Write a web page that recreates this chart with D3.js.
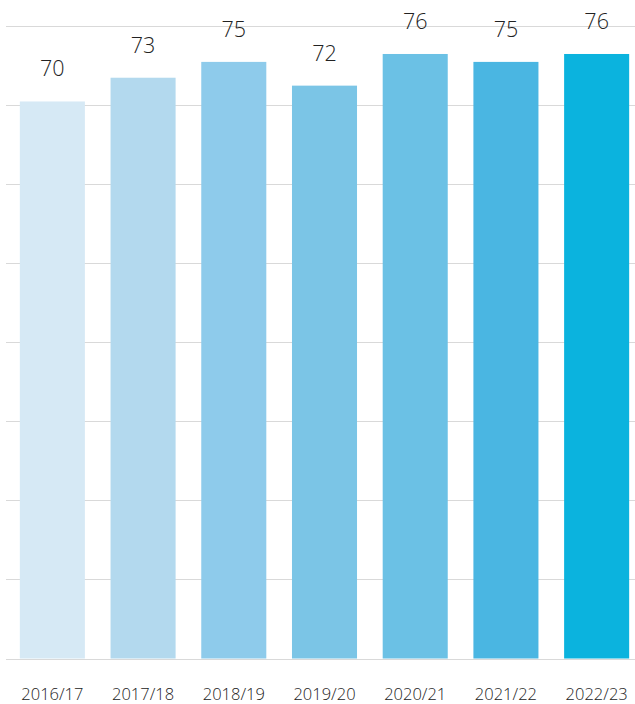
<!DOCTYPE html>
<html>
<head>
<meta charset="utf-8">
<script src="https://cdn.jsdelivr.net/npm/d3@7"></script>
<style>
  body { margin: 0; background: #fff; }
  text { font-family: "Open Sans", sans-serif; fill: #222; }
</style>
</head>
<body>
<div id="chart"></div>
<script>
// years and values (labels are rounded)
const years = ["2016/17", "2017/18", "2018/19", "2019/20", "2020/21", "2021/22", "2022/23"];
const values = [70.4, 73.4, 75.4, 72.4, 76.4, 75.4, 76.4];
const colors = ["#d6e9f5", "#b3d9ee", "#8ecbeb", "#7bc5e6", "#6bc1e5", "#4ab6e2", "#0bb3de"];
const gridTicks = [0, 10, 20, 30, 40, 50, 60, 70, 80];

const width = 635;
const height = 704;

const svg = d3.select("#chart")
  .append("svg")
  .attr("width", width)
  .attr("height", height);

const x = d3.scaleBand()
  .domain(years)
  .range([7, 642])
  .paddingInner(0.283)
  .paddingOuter(0.1415);

const y = d3.scaleLinear()
  .domain([0, 80])
  .range([658.5, 25.5]);

// gridlines
svg.append("g")
  .selectAll("line")
  .data(gridTicks)
  .join("line")
  .attr("x1", 6)
  .attr("x2", width)
  .attr("y1", d => Math.round(y(d)) + 0.5)
  .attr("y2", d => Math.round(y(d)) + 0.5)
  .attr("stroke", "#d9d9d9")
  .attr("stroke-width", 1);

svg.append("g")
  .selectAll("rect")
  .data(values)
  .join("rect")
  .attr("x", (d, i) => x(years[i]))
  .attr("y", d => y(d))
  .attr("width", x.bandwidth())
  .attr("height", d => y(0) - y(d))
  .attr("fill", (d, i) => colors[i]);

// value labels
svg.append("g")
  .selectAll("text")
  .data(values)
  .join("text")
  .attr("x", (d, i) => x(years[i]) + x.bandwidth() / 2)
  .attr("y", d => y(d) - 25)
  .attr("text-anchor", "middle")
  .attr("font-size", 21.5)
  .attr("font-weight", 300)
  .text(d => d3.format(".0f")(d));

// category labels
const xAxis = svg.append("g")
  .attr("transform", `translate(0,${y(0)})`)
  .call(d3.axisBottom(x).tickSize(0).tickPadding(30));
xAxis.select(".domain").remove();
xAxis.selectAll("text")
  .attr("font-family", "Open Sans")
  .attr("font-size", 16.5)
  .attr("font-weight", 300)
  .style("fill", "#222");
</script>
</body>
</html>
